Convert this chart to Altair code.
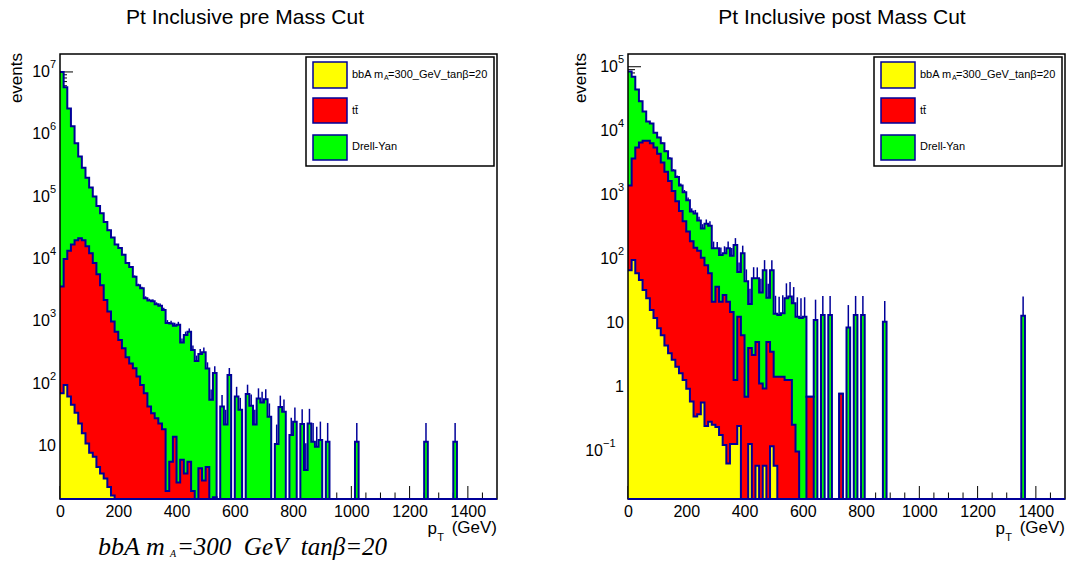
import altair as alt
import numpy as np
import pandas as pd

# ---------------- data ----------------
bin_width = 12.5          # GeV
n_bins = 120              # 0 .. 1500 GeV

# stack levels (height of the stack up to and including that sample)
pre_bba = [70, 95, 62, 46, 34, 23, 16, 11, 7.8, 6.7, 4.6, 3.6, 3.0, 2.2, 1.6, 1.2, 0.95, 0.6, 0.4, 0.35,
           0.5, 0.3, 0.3, 0.25, 0.25, 0.18, 0.12, 0.07, 0.12, 0.15, 0.2] + [0] * 89
pre_tt_stack = [3600, 10000, 13500, 17000, 20000, 21500, 20000, 16000, 12400, 8600,
                5700, 3800, 2200, 1440, 990, 680, 500, 370, 265, 210,
                177, 130, 95, 70, 43, 33.5, 27.8, 23, 18.5, 1.9,
                5.6, 14, 2.6, 6, 3.6, 5.6, 1.9, 1.0, 4.4, 2.8,
                4.6, 0.5, 1.5] + [0] * 77
pre_total = [1.0e7, 5.7e6, 2.6e6, 1.35e6, 7.2e5, 4.4e5, 2.9e5, 2.0e5, 1.4e5, 1.0e5,
             7.1e4, 5.4e4, 3.9e4, 2.9e4, 2.2e4, 1.7e4, 1.5e4, 1.17e4, 8600, 7400,
             5200, 3800, 3400, 2350, 2150, 2100, 1870, 1780, 1520, 940,
             920, 850, 880, 455, 600, 680, 345, 230, 300, 320,
             175, 55, 148, 0, 43, 22, 138, 0, 62, 38,
             0, 68, 44, 22, 58, 50, 56, 29.5, 0, 10.8,
             42, 35.5, 0, 15, 24.5, 0, 22.5, 4.1, 23, 11.7,
             9.7, 12.5, 0, 11.7, 0, 0, 0, 0, 0, 0,
             0, 11.7, 0, 0, 0, 0, 0, 0, 0, 0,
             0, 0, 0, 0, 0, 0, 0, 0, 0, 0,
             11.7, 0, 0, 0, 0, 0, 0, 0, 11.7, 0,
             0, 0, 0, 0, 0, 0, 0, 0, 0, 0]

post_bba = [67, 97, 60, 47, 33, 24.5, 16, 12, 8.3, 6.5,
            4.5, 3.4, 2.7, 2.1, 1.65, 1.3, 0.95, 0.6, 0.35, 0.38,
            0.58, 0.25, 0.29, 0.26, 0.24, 0.18, 0.126, 0.065, 0.13, 0.13,
            0.25, 0, 0, 0.13, 0, 0.06, 0, 0.06, 0, 0.12,
            0.06] + [0] * 79
post_tt_stack = [1400, 3700, 5500, 6600, 7000, 7000, 6400, 5500, 4400, 3200,
                 2300, 1650, 1150, 800, 560, 390, 270, 190, 150, 135,
                 105, 80, 60, 21.6, 37, 21.6, 27.5, 21.6, 15, 1.3,
                 12.6, 6.5, 0.71, 4.1, 3.2, 5.1, 1.15, 0.96, 5.1, 3.6,
                 1.46, 1.46, 1.46, 1.3, 1.3, 0.26, 0.1, 0, 0, 0.71,
                 0.71, 0, 0, 0, 0, 0, 0, 0, 0.79] + [0] * 61
post_total = [84000, 70000, 44000, 29000, 20000, 14000, 13000, 9300, 7900, 6400,
              4800, 3700, 2400, 1900, 1400, 1100, 830, 550, 515, 400,
              300, 355, 330, 147, 147, 116, 123, 147, 113, 166,
              63, 123, 45, 20, 50, 50, 30, 67, 25, 67,
              14, 13.4, 14.3, 24.5, 26, 20.4, 12.6, 12, 12.6, 0.71,
              0.71, 11.2, 0, 13.4, 0, 13.4, 0, 0, 0.79, 0,
              8.6, 0, 13.4, 0, 13.4, 0, 0, 0, 0, 0,
              10.5] + [0] * 37 + [13.1] + [0] * 11

pre_dy_weight = 11.7      # per-event weight of the Drell-Yan sample
post_dy_weight = 13.0

x_label_values = [0, 200, 400, 600, 800, 1000, 1200, 1400]
x_major_ticks = [0, 200, 400, 600, 800, 1000, 1200, 1400]
x_minor_ticks = [50, 100, 150, 250, 300, 350, 450, 500, 550, 650, 700, 750, 850, 900, 950,
                 1050, 1100, 1150, 1250, 1300, 1350, 1450]

pre_ydomain = [1.41, 1.94e7]
post_ydomain = [0.0181, 1.58e5]
pre_ylab_plain = [(10, "10")]
pre_ylab_exp = [(1e2, "2"), (1e3, "3"), (1e4, "4"), (1e5, "5"), (1e6, "6"), (1e7, "7")]
pre_ylab_neg = []
post_ylab_plain = [(1, "1"), (10, "10")]
post_ylab_exp = [(1e2, "2"), (1e3, "3"), (1e4, "4"), (1e5, "5")]
post_ylab_neg = [(0.1, "\u22121")]

legend_labels = ["bbA m", "A", "=300_GeV_tan\u03b2=20", "tt\u0304", "Drell-Yan"]

# ---------------- styling ----------------
FONT = "Liberation Sans"
NAVY = "#000099"
W, H = 437, 445
one = pd.DataFrame({"k": [0]})


def panel(bba, tt_stack, total, ydom, weight, title, title_x,
          ylab_plain, ylab_exp, ylab_neg, anchor_x0, anchor_x1, events_x, below=False):
    xs = alt.Scale(domain=[0, 1500], nice=False, zero=False)
    ys = alt.Scale(type="log", domain=ydom, nice=False)
    xax = alt.Axis(values=x_label_values, labelFont=FONT, labelFontSize=16, labelColor="black",
                   labelPadding=4, ticks=False, domain=False, grid=False, title=None,
                   labelFlush=False, labelOverlap=False, format="d")
    ymin = ydom[0]
    edges = [i * bin_width for i in range(n_bins + 1)]

    def step_df(vals):
        v = list(vals) + [vals[-1]]
        return pd.DataFrame({"x": edges, "y": np.maximum(np.array(v, dtype=float), ymin),
                             "b": ymin})

    def X(f):
        return alt.X(f, type="quantitative", scale=xs, axis=xax)

    def Y(f):
        return alt.Y(f, type="quantitative", scale=ys, axis=None)

    layers = []
    # invisible anchor that fixes the layout box
    layers.append(alt.Chart(one).mark_rect(fill="white", opacity=0).encode(
        x=alt.value(anchor_x0), x2=alt.value(anchor_x1), y=alt.value(-54), y2=alt.value(-53)))

    # ticks (drawn under the histograms, as ROOT does)
    layers.append(alt.Chart(pd.DataFrame({"t": x_major_ticks})).mark_rule(color="black", strokeWidth=1).encode(
        x=X("t"), y=alt.value(H), y2=alt.value(H - 13)))
    layers.append(alt.Chart(pd.DataFrame({"t": x_minor_ticks})).mark_rule(color="black", strokeWidth=1).encode(
        x=X("t"), y=alt.value(H), y2=alt.value(H - 6.5)))
    lo_e, hi_e = int(np.floor(np.log10(ydom[0]))), int(np.ceil(np.log10(ydom[1])))
    ymaj = [10.0 ** e for e in range(lo_e, hi_e + 1) if ydom[0] <= 10.0 ** e <= ydom[1]]
    ymin_t = [k * 10.0 ** e for e in range(lo_e, hi_e + 1) for k in range(2, 10)
              if ydom[0] <= k * 10.0 ** e <= ydom[1]]
    layers.append(alt.Chart(pd.DataFrame({"v": ymaj})).mark_rule(color="black", strokeWidth=1).encode(
        y=Y("v"), x=alt.value(0), x2=alt.value(13)))
    layers.append(alt.Chart(pd.DataFrame({"v": ymin_t})).mark_rule(color="black", strokeWidth=1).encode(
        y=Y("v"), x=alt.value(0), x2=alt.value(7)))

    tot = np.array(total, dtype=float)
    tts = np.array(tt_stack, dtype=float)
    dy = np.clip(tot - tts, 0, None)
    err = np.sqrt(dy * weight)
    centers = [(i + 0.5) * bin_width for i in range(n_bins)]
    edf = pd.DataFrame({"c": centers, "t": tot, "t2": tot + err, "dy": dy})
    edf = edf[(edf.dy > 0) & (edf.t2 > ymin)].copy()
    edf["t"] = np.maximum(edf["t"], ymin)

    for vals, color, with_err in [(total, "#00ff00", True), (tt_stack, "#ff0000", False), (bba, "#ffff00", False)]:
        df = step_df(vals)
        layers.append(alt.Chart(df).mark_area(interpolate="step-after", color=color, opacity=1,
                                              clip=True).encode(
            x=X("x"), y=Y("y"), y2=alt.Y2("b")))
        layers.append(alt.Chart(df).mark_line(interpolate="step-after", color=NAVY, strokeWidth=2, clip=True).encode(
            x=X("x"), y=Y("y")))
        if with_err:
            layers.append(alt.Chart(edf).mark_rule(color=NAVY, strokeWidth=1.5, clip=True).encode(
                x=X("c"), y=Y("t"), y2=alt.Y2("t2")))

    # frame and bottom line
    layers.append(alt.Chart(one).mark_rect(fill="transparent", stroke="black", strokeWidth=1.5).encode(
        x=alt.value(0), x2=alt.value(W), y=alt.value(0), y2=alt.value(H)))
    layers.append(alt.Chart(one).mark_rule(color=NAVY, strokeWidth=2).encode(
        x=alt.value(0), x2=alt.value(W), y=alt.value(H)))

    # legend
    layers.append(alt.Chart(one).mark_rect(fill="white", stroke="black", strokeWidth=1.5).encode(
        x=alt.value(246), x2=alt.value(434), y=alt.value(3), y2=alt.value(112)))
    for (y0, y1), col in zip([(8, 34), (44, 69), (81, 106)], ["#ffff00", "#ff0000", "#00ff00"]):
        layers.append(alt.Chart(one).mark_rect(fill=col, stroke=NAVY, strokeWidth=1.5).encode(
            x=alt.value(253), x2=alt.value(287), y=alt.value(y0), y2=alt.value(y1)))
    lt = dict(font=FONT, color="black", align="left", baseline="middle")
    layers.append(alt.Chart(one).mark_text(text=legend_labels[0], fontSize=11, **lt).encode(
        x=alt.value(292), y=alt.value(20.5)))
    layers.append(alt.Chart(one).mark_text(text=legend_labels[1], fontSize=7, **lt).encode(
        x=alt.value(324), y=alt.value(24)))
    layers.append(alt.Chart(one).mark_text(text=legend_labels[2], fontSize=11, **lt).encode(
        x=alt.value(328), y=alt.value(20.5)))
    layers.append(alt.Chart(one).mark_text(text=legend_labels[3], fontSize=11, **lt).encode(
        x=alt.value(292), y=alt.value(57)))
    layers.append(alt.Chart(one).mark_text(text=legend_labels[4], fontSize=11, **lt).encode(
        x=alt.value(292), y=alt.value(93)))

    # y labels (10 with superscript exponent)
    lab = dict(font=FONT, color="black", baseline="middle")
    if ylab_plain:
        d = pd.DataFrame(ylab_plain, columns=["v", "s"])
        layers.append(alt.Chart(d).mark_text(fontSize=16, align="right", **lab).encode(
            y=Y("v"), x=alt.value(-4), text="s:N"))
    for lst, bx in [(ylab_exp, -10), (ylab_neg, -25)]:
        if lst:
            d = pd.DataFrame(lst, columns=["v", "s"])
            layers.append(alt.Chart(d).mark_text(fontSize=16, align="right", text="10", **lab).encode(
                y=Y("v"), x=alt.value(bx)))
            layers.append(alt.Chart(d).mark_text(fontSize=11, align="left", dy=-7, **lab).encode(
                y=Y("v"), x=alt.value(bx), text="s:N"))

    # titles
    layers.append(alt.Chart(one).mark_text(text=title, font=FONT, fontSize=21, color="black",
                                           align="center", baseline="middle").encode(
        x=alt.value(title_x), y=alt.value(-36)))
    layers.append(alt.Chart(one).mark_text(text="events", font=FONT, fontSize=17, color="black",
                                           angle=270, align="right", baseline="middle").encode(
        x=alt.value(events_x), y=alt.value(-1)))
    layers.append(alt.Chart(one).mark_text(text="p", font=FONT, fontSize=17, color="black",
                                           align="right", baseline="middle").encode(
        x=alt.value(377), y=alt.value(475)))
    layers.append(alt.Chart(one).mark_text(text="T", font=FONT, fontSize=11, color="black",
                                           align="right", baseline="middle").encode(
        x=alt.value(384), y=alt.value(484)))
    layers.append(alt.Chart(one).mark_text(text="(GeV)", font=FONT, fontSize=17, color="black",
                                           align="right", baseline="middle").encode(
        x=alt.value(437), y=alt.value(474)))
    if below:
        it = dict(font="Liberation Serif", fontStyle="italic", color="black", align="left", baseline="middle")
        layers.append(alt.Chart(one).mark_text(text="bbA m", fontSize=26, **it).encode(
            x=alt.value(38), y=alt.value(493)))
        layers.append(alt.Chart(one).mark_text(text="A", fontSize=10, **it).encode(
            x=alt.value(110), y=alt.value(500)))
        layers.append(alt.Chart(one).mark_text(text="=300\u00a0 GeV\u00a0 tan\u03b2=20", fontSize=25, **it).encode(
            x=alt.value(117), y=alt.value(493)))

    return alt.layer(*layers).properties(width=W, height=H)


left = panel(pre_bba, pre_tt_stack, pre_total, pre_ydomain, pre_dy_weight,
             "Pt Inclusive pre Mass Cut", 185, pre_ylab_plain, pre_ylab_exp, pre_ylab_neg,
             -60, 500, -43.5, below=True)
right = panel(post_bba, post_tt_stack, post_total, post_ydomain, post_dy_weight,
              "Pt Inclusive post Mass Cut", 214, post_ylab_plain, post_ylab_exp, post_ylab_neg,
              -67.5, 0, -47.5)

chart = alt.hconcat(left, right, spacing=0).configure_view(stroke=None).properties(
    padding=0, background="white")
chart.save("out.html", embed_options={"renderer": "svg", "actions": False})
